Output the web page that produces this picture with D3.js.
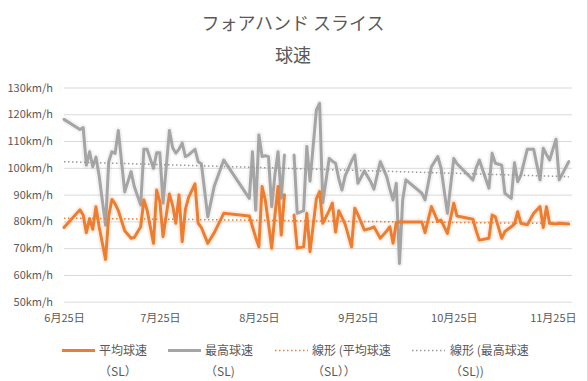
<!DOCTYPE html>
<html><head><meta charset="utf-8">
<script src="https://cdn.jsdelivr.net/npm/d3@7/dist/d3.min.js"></script>
<style>
html,body{margin:0;padding:0;background:#fff;}
svg{display:block;}
text{font-family:"Noto Sans CJK JP","Noto Sans",sans-serif;}
</style></head>
<body>
<script>
// ---- data ----
const titleLines = ["フォアハンド スライス", "球速"];
const dates = ["2021-06-25","2021-06-30","2021-07-01","2021-07-02","2021-07-03","2021-07-04","2021-07-05","2021-07-06","2021-07-08","2021-07-09","2021-07-10","2021-07-11","2021-07-12","2021-07-14","2021-07-16","2021-07-17","2021-07-19","2021-07-20","2021-07-21","2021-07-23","2021-07-24","2021-07-25","2021-07-26","2021-07-28","2021-07-29","2021-07-30","2021-07-31","2021-08-01","2021-08-02","2021-08-03","2021-08-05","2021-08-06","2021-08-07","2021-08-09","2021-08-11","2021-08-14","2021-08-22","2021-08-23","2021-08-24","2021-08-25","2021-08-26","2021-08-27","2021-08-28","2021-08-29","2021-08-30","2021-08-31","2021-09-01","2021-09-02","2021-09-03","2021-09-05","2021-09-06","2021-09-08","2021-09-09","2021-09-10","2021-09-12","2021-09-13","2021-09-14","2021-09-16","2021-09-17","2021-09-18","2021-09-19","2021-09-20","2021-09-21","2021-09-23","2021-09-24","2021-09-25","2021-09-27","2021-09-29","2021-09-30","2021-10-02","2021-10-04","2021-10-05","2021-10-06","2021-10-07","2021-10-08","2021-10-09","2021-10-10","2021-10-15","2021-10-16","2021-10-18","2021-10-20","2021-10-21","2021-10-23","2021-10-25","2021-10-26","2021-10-31","2021-11-01","2021-11-02","2021-11-05","2021-11-06","2021-11-07","2021-11-09","2021-11-10","2021-11-12","2021-11-13","2021-11-14","2021-11-15","2021-11-17","2021-11-19","2021-11-21","2021-11-22","2021-11-23","2021-11-24","2021-11-26","2021-11-27","2021-11-30"];
const maxSpeed = [118.1,114.3,115,101,106,100.4,104,97,78.6,102.3,106,105.4,113.9,91,98.6,93,86.1,106.9,106.9,99.8,105.6,105.6,86.8,113.9,107.5,105.5,107,109.2,104.2,104.8,106.9,102.3,101.5,81.7,93,102.9,88.6,106,84.2,112.3,104.2,104.5,104.2,85.5,97.3,106,88.6,104.8,null,104.8,83,84,108,95,121.6,124.1,87,103.5,102.5,101.7,96,91.7,97,102.5,104.8,94.2,98.8,94.8,92,102.3,96.7,92,88,94.2,64.3,88,95.5,90.5,88,100.4,104.2,100,83,103.5,101.5,95.5,100,102.9,92.4,105.4,101.7,101,90.5,88.6,101.9,94.8,97.3,106.9,106.9,95.5,107.3,105,102.9,110.7,95.5,102.3];
const avgSpeed = [77.7,84.3,82.4,75.8,81,77,85.5,78,65.8,82,88.2,86.5,84,76.5,73.7,74,78,88,84.3,71.8,91.7,87.4,74.3,90.2,86,79.3,89.9,72.4,84.5,89,94,79.3,77.7,71.8,75.7,83,82,78,74,70.5,93,88,79.3,70,82,93,74.9,89.9,null,82.4,70,70.5,83,68.7,88.5,91.1,79.3,84,86.8,76,84,81.5,79,70.5,84.9,82.5,76.8,77.4,78,73.7,76.4,78,71.8,79.6,79.8,79.8,79.8,79.8,75.8,85.5,80,80.5,75.5,86.8,82,80.8,76.5,73,73.7,82.4,81.7,73.7,76.2,78,79,83.6,79.3,78.7,83,85.5,77.7,85.5,79.3,79,79.3,79];
const yTicks = [50,60,70,80,90,100,110,120,130];
const xTickDates = ["2021-06-25","2021-07-25","2021-08-25","2021-09-25","2021-10-25","2021-11-25"];
const xDomain = ["2021-06-25","2021-12-01"];
const seriesNames = ["平均球速（SL）","最高球速（SL)"];
const legendLabels = [["平均球速","（SL）"],["最高球速","（SL)"],["線形 (平均球速","（SL））"],["線形 (最高球速","（SL))"]];

// ---- layout ----
const W = 588, H = 381;
const M = {left:64, right:572, top:87.5, bottom:301.7};
const parse = d3.timeParse("%Y-%m-%d");
const ORANGE = "#ED7D31", GRAY = "#A5A5A5", TEXT = "#595959", GRID = "#D9D9D9";

const svg = d3.select("body").append("svg").attr("width", W).attr("height", H);
svg.append("line").attr("x1", W-0.5).attr("x2", W-0.5).attr("y1", 0).attr("y2", H).attr("stroke", GRID);

const x = d3.scaleTime().domain(xDomain.map(parse)).range([M.left, M.right]);
const y = d3.scaleLinear().domain([50,130]).range([M.bottom, M.top]);

// title
svg.append("text").attr("x", 293).attr("y", 30).attr("text-anchor","middle")
  .attr("font-size", 18).attr("fill", TEXT).text(titleLines[0]);
svg.append("text").attr("x", 293).attr("y", 61.5).attr("text-anchor","middle")
  .attr("font-size", 18).attr("fill", TEXT).text(titleLines[1]);

// y axis with gridlines
const yAxis = d3.axisLeft(y).tickValues(yTicks).tickSize(-(M.right-M.left)).tickPadding(11)
  .tickFormat(d => d + "km/h");
const gy = svg.append("g").attr("transform", `translate(${M.left},0)`).call(yAxis);
gy.select(".domain").remove();
gy.selectAll(".tick line").attr("stroke", GRID).attr("stroke-width", 1);
gy.selectAll(".tick text").attr("fill", TEXT).attr("font-size", 11)
  .attr("font-family", '"Noto Sans","Noto Sans CJK JP",sans-serif');

// x axis
const xAxis = d3.axisBottom(x).tickValues(xTickDates.map(parse)).tickSize(0).tickPadding(13)
  .tickFormat(d => (d.getMonth()+1) + "月" + d.getDate() + "日");
const gx = svg.append("g").attr("transform", `translate(0,${M.bottom})`).call(xAxis);
gx.select(".domain").remove();
gx.selectAll(".tick text").attr("fill", TEXT).attr("font-size", 11);

// series
const rowsAvg = dates.map((d,i) => ({date: parse(d), v: avgSpeed[i]}));
const rowsMax = dates.map((d,i) => ({date: parse(d), v: maxSpeed[i]}));
const line = d3.line().defined(d => d.v != null).x(d => x(d.date)).y(d => y(d.v));

function drawSeries(rows, color){
  svg.append("path").datum(rows).attr("d", line).attr("fill","none")
    .attr("stroke", color).attr("stroke-opacity", 0.13).attr("stroke-width", 7)
    .attr("stroke-linejoin","round");
  svg.append("path").datum(rows).attr("d", line).attr("fill","none")
    .attr("stroke", color).attr("stroke-width", 3).attr("stroke-linejoin","round").attr("stroke-linecap","round");
}
drawSeries(rowsMax, GRAY);
drawSeries(rowsAvg, ORANGE);

// linear trendlines (least squares on date)
function trend(rows){
  const pts = rows.filter(d => d.v != null);
  const xs = pts.map(d => +d.date), ys = pts.map(d => d.v);
  const mx = d3.mean(xs), my = d3.mean(ys);
  const b = d3.sum(xs.map((xv,i) => (xv-mx)*(ys[i]-my))) / d3.sum(xs.map(xv => (xv-mx)*(xv-mx)));
  const a = my - b*mx;
  const ends = d3.extent(xs);
  return ends.map(t => ({date: new Date(t), v: a + b*t}));
}
svg.append("path").datum(trend(rowsAvg)).attr("d", line).attr("fill","none")
  .attr("stroke", ORANGE).attr("stroke-width", 1.5).attr("stroke-dasharray","1.5,2.5");
svg.append("path").datum(trend(rowsMax)).attr("d", line).attr("fill","none")
  .attr("stroke", "#999999").attr("stroke-width", 1.5).attr("stroke-dasharray","1.5,2.5");

// legend
const legendItems = [
  {sx:62, tx:99, color:ORANGE, dash:null, w:3},
  {sx:168, tx:205, color:GRAY, dash:null, w:3},
  {sx:275, tx:312, color:ORANGE, dash:"1.5,2.5", w:1.5},
  {sx:412, tx:450, color:"#999999", dash:"1.5,2.5", w:1.5}
];
const lg = svg.append("g");
legendItems.forEach((it, i) => {
  lg.append("line").attr("x1", it.sx).attr("x2", it.sx+33).attr("y1", 350.5).attr("y2", 350.5)
    .attr("stroke", it.color).attr("stroke-width", it.w).attr("stroke-dasharray", it.dash);
  lg.append("text").attr("x", it.tx).attr("y", 355).attr("font-size", 12).attr("fill", TEXT).text(legendLabels[i][0]);
  lg.append("text").attr("x", it.tx).attr("y", 376).attr("font-size", 12).attr("fill", TEXT).text(legendLabels[i][1]);
});
</script>
</body></html>
